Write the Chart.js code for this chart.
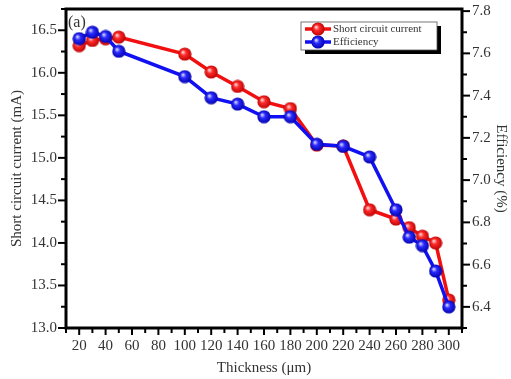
<!DOCTYPE html>
<html>
<head>
<meta charset="utf-8">
<script src="https://cdn.jsdelivr.net/npm/chart.js@4"></script>
<style>
  html, body { margin: 0; padding: 0; background: #fff; }
  #wrap { width: 511px; height: 379px; }
</style>
</head>
<body>
<div id="wrap"><canvas id="chart" width="511" height="379"></canvas></div>
<script>
// values
const thickness = [20, 30, 40, 50, 100, 120, 140, 160, 180, 200, 220, 240, 260, 270, 280, 290, 300];
const current = [16.32, 16.38, 16.40, 16.42, 16.22, 16.01, 15.84, 15.66, 15.58, 15.15, 15.14, 14.39, 14.28, 14.18, 14.08, 14.00, 13.33];
const efficiency = [7.67, 7.70, 7.68, 7.61, 7.49, 7.39, 7.36, 7.30, 7.30, 7.17, 7.16, 7.11, 6.86, 6.73, 6.69, 6.57, 6.40];

const xTicks = [10, 20, 30, 40, 50, 60, 70, 80, 90, 100, 110, 120, 130, 140, 150, 160, 170, 180, 190, 200, 210, 220, 230, 240, 250, 260, 270, 280, 290, 300, 310];
const leftTicks = [13.0, 13.25, 13.5, 13.75, 14.0, 14.25, 14.5, 14.75, 15.0, 15.25, 15.5, 15.75, 16.0, 16.25, 16.5, 16.75];
const rightTicks = [6.3, 6.4, 6.5, 6.6, 6.7, 6.8, 6.9, 7.0, 7.1, 7.2, 7.3, 7.4, 7.5, 7.6, 7.7, 7.8];

const FONT = '"Liberation Serif", "Times New Roman", serif';
const RED = '#f20f0f';
const BLUE = '#1010f2';

// little shaded ball used as marker
function ball(light, mid, dark) {
  const c = document.createElement('canvas');
  c.width = 14; c.height = 14;
  const g = c.getContext('2d');
  const grad = g.createRadialGradient(5, 5, 0.5, 7, 7, 7);
  grad.addColorStop(0, light);
  grad.addColorStop(0.35, mid);
  grad.addColorStop(1, dark);
  g.fillStyle = grad;
  g.beginPath();
  g.arc(7, 7, 6.6, 0, Math.PI * 2);
  g.fill();
  return c;
}
const redBall = ball('#ffd0d0', '#ff2a2a', '#b80000');
const blueBall = ball('#d0d0ff', '#2a2aff', '#0000a8');

const isMajor = (v, step) => Math.abs(v / step - Math.round(v / step)) < 1e-6;

// fixed box sizes so the plot area sits where it does in the picture
const fitSide = w => axis => { axis.width = w; axis.paddingTop = 0; axis.paddingBottom = 0; };

// frame, tick marks, "(a)" and the boxed legend
const decor = {
  id: 'decor',
  afterDatasetsDraw(chart) {
    const ctx = chart.ctx;
    const a = chart.chartArea;
    const s = chart.scales;
    ctx.save();
    ctx.strokeStyle = '#000';
    ctx.lineWidth = 2;
    s.x.ticks.forEach(t => {
      const px = s.x.getPixelForValue(t.value);
      const len = isMajor(t.value, 20) ? 7 : 5;
      ctx.beginPath(); ctx.moveTo(px, a.bottom); ctx.lineTo(px, a.bottom + len); ctx.stroke();
    });
    s.y.ticks.forEach(t => {
      const py = s.y.getPixelForValue(t.value);
      const len = isMajor(t.value, 0.5) ? 8 : 5;
      ctx.beginPath(); ctx.moveTo(a.left, py); ctx.lineTo(a.left - len, py); ctx.stroke();
    });
    s.y1.ticks.forEach(t => {
      const py = s.y1.getPixelForValue(t.value);
      const len = isMajor(t.value, 0.2) ? 8 : 5;
      ctx.beginPath(); ctx.moveTo(a.right, py); ctx.lineTo(a.right + len, py); ctx.stroke();
    });
    ctx.lineWidth = 3;
    ctx.strokeRect(a.left, a.top, a.right - a.left, a.bottom - a.top);

    ctx.fillStyle = '#333';
    ctx.font = '16px ' + FONT;
    ctx.textBaseline = 'alphabetic';
    ctx.fillText('(a)', a.left + 2, a.top + 18);

    // legend
    const bx = 301, by = 22, bw = 136, bh = 28;
    ctx.fillStyle = '#000';
    ctx.fillRect(bx + 4, by + 4, bw, bh);
    ctx.fillStyle = '#fff';
    ctx.fillRect(bx, by, bw, bh);
    ctx.lineWidth = 0.8;
    ctx.strokeStyle = '#555';
    ctx.strokeRect(bx, by, bw, bh);
    const items = [[chart.data.datasets[0], redBall, 29], [chart.data.datasets[1], blueBall, 42]];
    ctx.font = '11px ' + FONT;
    ctx.textBaseline = 'middle';
    items.forEach(([ds, img, ly]) => {
      ctx.strokeStyle = ds.borderColor;
      ctx.lineWidth = 3.5;
      ctx.beginPath(); ctx.moveTo(305, ly); ctx.lineTo(331, ly); ctx.stroke();
      ctx.drawImage(img, 318 - 7, ly - 7);
      ctx.fillStyle = '#333';
      ctx.fillText(ds.label, 333, ly + 0.5);
    });
    ctx.restore();
  }
};

const ctx = document.getElementById('chart').getContext('2d');
new Chart(ctx, {
  type: 'line',
  data: {
    datasets: [{
      label: 'Short circuit current',
      data: thickness.map((t, i) => ({ x: t, y: current[i] })),
      yAxisID: 'y',
      borderColor: RED,
      borderWidth: 3.5,
      pointStyle: redBall,
      order: 2
    }, {
      label: 'Efficiency',
      data: thickness.map((t, i) => ({ x: t, y: efficiency[i] })),
      yAxisID: 'y1',
      borderColor: BLUE,
      borderWidth: 3.5,
      pointStyle: blueBall,
      order: 1
    }]
  },
  options: {
    responsive: false,
    animation: false,
    layout: { padding: { top: 9, left: 0, right: 0, bottom: 0 } },
    plugins: { legend: { display: false }, tooltip: { enabled: false } },
    elements: { line: { tension: 0 } },
    scales: {
      x: {
        type: 'linear',
        min: 10, max: 310,
        afterBuildTicks: axis => { axis.ticks = xTicks.map(v => ({ value: v })); },
        afterFit: axis => { axis.height = 51; axis.paddingLeft = 0; axis.paddingRight = 0; },
        grid: { display: false, drawTicks: false },
        border: { display: false },
        ticks: {
          autoSkip: false, maxRotation: 0, padding: 9,
          color: '#333', font: { family: FONT, size: 15 },
          callback: v => (isMajor(v, 20) ? String(v) : '')
        },
        title: { display: true, text: 'Thickness (μm)', color: '#333', font: { family: FONT, size: 15 }, padding: { top: 0, bottom: 2 } }
      },
      y: {
        position: 'left',
        min: 13, max: 16.75,
        afterBuildTicks: axis => { axis.ticks = leftTicks.map(v => ({ value: v })); },
        afterFit: fitSide(66),
        grid: { display: false, drawTicks: false },
        border: { display: false },
        ticks: {
          autoSkip: false, padding: 9, color: '#333', font: { family: FONT, size: 15 },
          callback: v => (isMajor(v, 0.5) ? v.toFixed(1) : '')
        },
        title: { display: true, text: 'Short circuit current (mA)', color: '#333', font: { family: FONT, size: 15 }, padding: { top: 8, bottom: 0 } }
      },
      y1: {
        position: 'right',
        min: 6.3, max: 7.81,
        afterBuildTicks: axis => { axis.ticks = rightTicks.map(v => ({ value: v })); },
        afterFit: fitSide(49),
        grid: { display: false, drawTicks: false },
        border: { display: false },
        ticks: {
          autoSkip: false, padding: 10, color: '#333', font: { family: FONT, size: 15 },
          callback: v => (isMajor(v, 0.2) ? v.toFixed(1) : '')
        },
        title: { display: true, text: 'Efficiency (%)', color: '#333', font: { family: FONT, size: 15 }, padding: { top: 1, bottom: 0 } }
      }
    }
  },
  plugins: [decor]
});
</script>
</body>
</html>
